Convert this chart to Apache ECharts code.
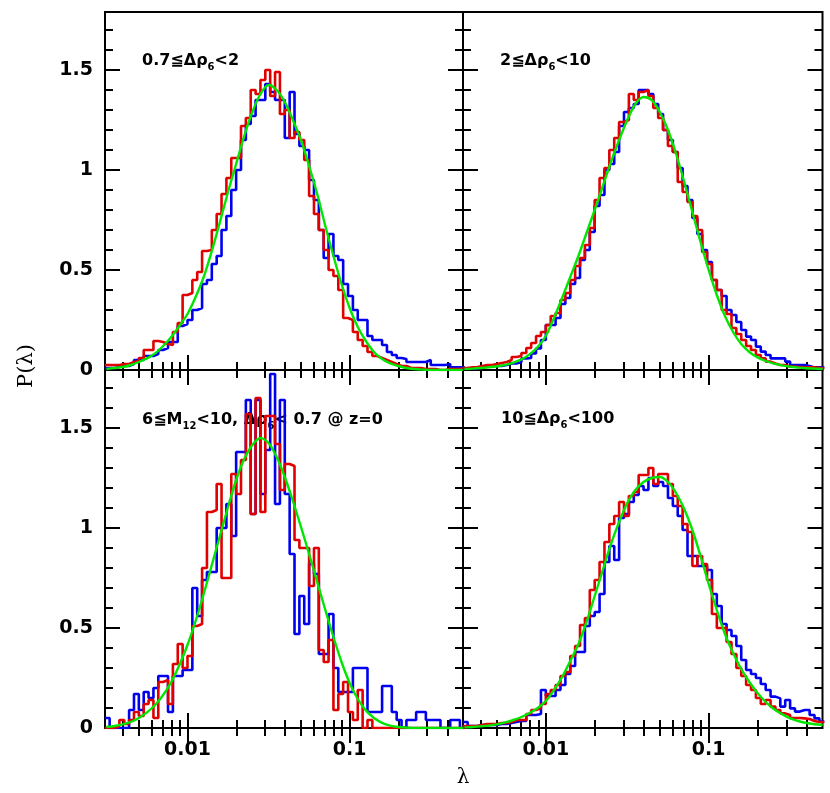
<!DOCTYPE html>
<html><head><meta charset="utf-8">
<script src="https://cdn.jsdelivr.net/npm/echarts@6/dist/echarts.min.js"></script>
<style>html,body{margin:0;padding:0;background:#fff}#c{width:830px;height:793px}</style>
</head><body><div id="c"></div>
<script>
// ---- data ----
const lambdaMin = 0.0031, lambdaMax = 0.5;
const binStartLog10 = -2.51, binWidthDex = 0.03;
const xTickValues = [0.01, 0.1];
const xTickLabels = ['0.01', '0.1'];
const xMinorTickValues = [0.004,0.005,0.006,0.007,0.008,0.009,0.02,0.03,0.04,0.05,0.06,0.07,0.08,0.09,0.2,0.3,0.4];
const yMax = 1.79;
const yTickValues = [0, 0.5, 1, 1.5];
const yTickLabels = ['0', '0.5', '1', '1.5'];
const yMinorTickValues = [0.1,0.2,0.3,0.4,0.6,0.7,0.8,0.9,1.1,1.2,1.3,1.4,1.6,1.7];

const tlRed = [0.025,0.025,0.025,0.03,0.03,0.04,0.045,0.06,0.10,0.10,
 0.145,0.14,0.13,0.125,0.19,0.235,0.375,0.385,0.45,0.49,
 0.595,0.60,0.70,0.78,0.88,0.96,1.06,1.06,1.22,1.26,
 1.40,1.38,1.45,1.50,1.37,1.49,1.28,1.30,1.16,1.19,
 1.15,1.05,0.87,0.78,0.70,0.60,0.50,0.47,0.40,0.26,
 0.25,0.19,0.15,0.12,0.09,0.07,0.06,0.05,0.04,0.03,
 0.02,0.02,0.01,0.01,0.01,0.005,0.005,0.005,0,0,
 0.005,0.005,0.005,0.01];
const tlBlue = [0.01,0.01,0.015,0.02,0.02,0.03,0.05,0.05,0.07,0.07,
 0.08,0.10,0.11,0.14,0.14,0.22,0.23,0.25,0.30,0.31,
 0.43,0.45,0.53,0.57,0.70,0.77,0.90,1.00,1.15,1.23,
 1.27,1.35,1.35,1.43,1.39,1.35,1.35,1.16,1.39,1.18,
 1.12,1.10,0.95,0.85,0.70,0.56,0.68,0.57,0.55,0.43,
 0.37,0.30,0.25,0.25,0.17,0.15,0.15,0.125,0.09,0.075,
 0.06,0.055,0.04,0.04,0.04,0.04,0.05,0.025,0.025,0.025,
 0.03,0.013,0.013,0.013];
const trRed = [0.01,0.013,0.015,0.02,0.025,0.025,0.03,0.035,0.04,0.05,
 0.065,0.07,0.085,0.11,0.135,0.17,0.19,0.225,0.27,0.285,
 0.35,0.385,0.45,0.52,0.56,0.625,0.71,0.85,0.96,1.01,
 1.10,1.16,1.24,1.25,1.38,1.35,1.39,1.40,1.37,1.31,
 1.26,1.20,1.12,1.09,0.94,0.89,0.84,0.77,0.70,0.59,
 0.53,0.45,0.40,0.30,0.28,0.21,0.18,0.15,0.12,0.10,
 0.075,0.058,0.042,0.033,0.025,0.025,0.017,0.017,0.015,0.013,
 0.013,0.013,0.01,0.01];
const trBlue = [0.008,0.008,0.008,0.012,0.02,0.02,0.02,0.02,0.025,0.033,
 0.033,0.04,0.058,0.06,0.083,0.108,0.15,0.225,0.225,0.26,
 0.33,0.36,0.43,0.46,0.55,0.60,0.69,0.82,0.875,1.00,
 1.03,1.09,1.22,1.29,1.31,1.33,1.40,1.40,1.38,1.33,
 1.28,1.20,1.15,1.09,1.01,0.92,0.85,0.76,0.68,0.60,
 0.54,0.45,0.40,0.37,0.30,0.275,0.24,0.20,0.167,0.15,
 0.117,0.092,0.075,0.058,0.058,0.058,0.042,0.025,0.025,0.025,
 0.02,0.013,0.013,0.013];
const blRed = [0,0,0.01,0.04,0.02,0.04,0.08,0.06,0.12,0.14,
 0.05,0.23,0.24,0.12,0.32,0.42,0.30,0.36,0.51,0.52,
 0.80,1.08,1.09,1.22,0.75,0.75,1.27,1.17,1.34,1.57,
 1.07,1.65,1.08,1.56,1.56,1.42,1.19,1.32,1.31,0.94,
 0.90,0.90,0.71,0.90,0.39,0.33,0.44,0.09,0.17,0.23,
 0.08,0.04,0.19,0,0.04,0,0,0,0,0,
 0,0,0,0,0,0,0,0,0,0,
 0,0,0,0];
const blBlue = [0.05,0,0,0,0,0.09,0.17,0.09,0.18,0.15,
 0.20,0.26,0.26,0.08,0.26,0.26,0.29,0.29,0.70,0.56,
 0.74,0.78,0.78,1.00,1.00,1.12,0.96,1.38,1.38,1.64,
 1.07,1.64,1.17,1.39,1.77,1.12,1.64,1.17,0.87,0.47,
 0.66,0.52,0.82,0.77,0.37,0.37,0.57,0.30,0.18,0.18,
 0.18,0.30,0.30,0.30,0.08,0.08,0.08,0.21,0.21,0.08,
 0.04,0,0.04,0.04,0.08,0.08,0.04,0.04,0.04,0,
 0,0.04,0.04,0];
const brRed = [0.01,0.01,0.01,0.015,0.02,0.02,0.02,0.025,0.025,0.03,
 0.04,0.04,0.04,0.07,0.09,0.10,0.12,0.17,0.19,0.215,
 0.26,0.28,0.36,0.41,0.515,0.55,0.69,0.74,0.83,0.93,
 1.02,1.06,1.13,1.06,1.16,1.18,1.265,1.265,1.30,1.22,
 1.27,1.27,1.22,1.16,1.11,1.02,0.98,0.81,0.86,0.82,
 0.74,0.57,0.50,0.50,0.43,0.37,0.30,0.26,0.215,0.19,
 0.15,0.12,0.14,0.107,0.09,0.073,0.065,0.05,0.05,0.048,
 0.045,0.035,0.03,0.03];
const brBlue = [0.03,0.01,0.01,0.015,0.015,0.015,0.015,0.02,0.02,0.025,
 0.03,0.035,0.035,0.065,0.065,0.07,0.19,0.16,0.16,0.19,
 0.215,0.27,0.31,0.38,0.38,0.51,0.56,0.58,0.67,0.83,
 0.91,0.84,1.05,1.07,1.13,1.165,1.21,1.19,1.25,1.21,
 1.23,1.21,1.15,1.11,1.06,0.99,0.86,0.86,0.81,0.81,
 0.79,0.67,0.61,0.52,0.49,0.46,0.41,0.34,0.29,0.27,
 0.25,0.22,0.19,0.157,0.148,0.107,0.14,0.098,0.082,0.09,
 0.09,0.065,0.048,0.032];

// fitted curves, sampled every 0.05 dex from log10(lambda) = -2.5 to -0.3
const fitLog10Lambda = [-2.5,-2.45,-2.4,-2.35,-2.3, -2.25,-2.2,-2.15,-2.1,-2.05, -2.0,-1.95,-1.9,-1.85,-1.8,
 -1.75,-1.7,-1.65,-1.6,-1.55, -1.5,-1.45,-1.4,-1.35,-1.3, -1.25,-1.2,-1.15,-1.1,-1.05,
 -1.0,-0.95,-0.9,-0.85,-0.8, -0.75,-0.7,-0.65,-0.6,-0.55, -0.5,-0.45,-0.4,-0.35,-0.3];
const tlFit = [0.005,0.01,0.015,0.025,0.04, 0.058,0.083,0.12,0.165,0.22, 0.28,0.365,0.465,0.595,0.74,
 0.89,1.03,1.17,1.29,1.38, 1.425,1.40,1.34,1.25,1.15, 1.02,0.88,0.72,0.57,0.43,
 0.31,0.215,0.145,0.09,0.055, 0.033,0.02,0.01,0.005,0.002, 0,0,0,0,0];
const trFit = [0.005,0.007,0.01,0.014,0.019, 0.026,0.037,0.053,0.078,0.115, 0.17,0.26,0.36,0.465,0.57,
 0.685,0.80,0.92,1.04,1.15, 1.25,1.33,1.365,1.35,1.29, 1.20,1.08,0.94,0.79,0.64,
 0.50,0.375,0.27,0.19,0.13, 0.09,0.063,0.045,0.032,0.023, 0.016,0.012,0.009,0.007,0.005];
const blFit = [0.005,0.01,0.018,0.03,0.05, 0.078,0.115,0.165,0.23,0.315, 0.415,0.535,0.67,0.815,0.96,
 1.105,1.24,1.345,1.415,1.45, 1.425,1.355,1.255,1.135,1.005, 0.87,0.73,0.59,0.455,0.33,
 0.225,0.145,0.088,0.05,0.026, 0.012,0.005,0.002,0,0, 0,0,0,0,0];
const brFit = [0.003,0.005,0.008,0.012,0.018, 0.028,0.04,0.055,0.075,0.10, 0.135,0.19,0.255,0.335,0.42,
 0.53,0.66,0.79,0.92,1.03, 1.125,1.19,1.23,1.25,1.255, 1.23,1.175,1.095,0.99,0.86,
 0.72,0.59,0.47,0.375,0.295, 0.23,0.175,0.13,0.095,0.07, 0.048,0.035,0.025,0.019,0.015];

const panelTitles = [
  '{m|0.7≦Δρ}{s|6}{m|<2}',
  '{m|2≦Δρ}{s|6}{m|<10}',
  '{m|6≦M}{s|12}{m|<10, Δρ}{s|6}{m|< 0.7 @ z=0}',
  '{m|10≦Δρ}{s|6}{m|<100}'
];
const xAxisTitle = 'λ';
const yAxisTitle = 'P(λ)';

// ---- build ----
const L = Math.log10;
const panels = [
  {red: tlRed, blue: tlBlue, fit: tlFit},
  {red: trRed, blue: trBlue, fit: trFit},
  {red: blRed, blue: blBlue, fit: blFit},
  {red: brRed, blue: brBlue, fit: brFit}
];
const gridBoxes = [
  {left: 105, top: 12, width: 358, height: 358},
  {left: 463, top: 12, width: 359.5, height: 358},
  {left: 105, top: 370, width: 358, height: 358},
  {left: 463, top: 370, width: 359.5, height: 358}
];
const labelFont = {fontFamily: 'DejaVu Sans', fontWeight: 'bold', fontSize: 19, color: '#000'};
const xMajor = xTickValues.map(L), xMinor = xMinorTickValues.map(L);
function fmtX(v){ const i = xMajor.findIndex(t => Math.abs(t - v) < 1e-6); return i >= 0 ? xTickLabels[i] : ''; }
function fmtY(v){ const i = yTickValues.findIndex(t => Math.abs(t - v) < 1e-6); return i >= 0 ? yTickLabels[i] : ''; }
function stepData(vals){
  const pts = [];
  vals.forEach((v, i) => { const a = binStartLog10 + i * binWidthDex; pts.push([a, v], [a + binWidthDex, v]); });
  return pts;
}
const grids = [], xAxes = [], yAxes = [], series = [];
gridBoxes.forEach((b, g) => {
  grids.push(Object.assign({show: true, borderColor: '#000', borderWidth: 2, backgroundColor: 'rgba(0,0,0,0)'}, b));
  const showX = g >= 2, showY = g % 2 === 0;
  ['bottom', 'top'].forEach(pos => {
    [[xMajor, 15], [xMinor, 8]].forEach(([vals, len], k) => {
      xAxes.push({
        type: 'value', gridIndex: g, position: pos, min: L(lambdaMin), max: L(lambdaMax),
        axisLine: {show: false}, splitLine: {show: false},
        axisTick: {show: true, inside: true, length: len, customValues: vals, lineStyle: {color: '#000', width: 2}},
        axisLabel: Object.assign({show: showX && pos === 'bottom' && k === 0, customValues: xMajor, formatter: fmtX, margin: 13}, labelFont)
      });
    });
  });
  ['left', 'right'].forEach(pos => {
    [[yTickValues, 15], [yMinorTickValues, 8]].forEach(([vals, len], k) => {
      yAxes.push({
        type: 'value', gridIndex: g, position: pos, min: 0, max: yMax,
        axisLine: {show: false}, splitLine: {show: false},
        axisTick: {show: true, inside: true, length: len, customValues: vals, lineStyle: {color: '#000', width: 2}},
        axisLabel: Object.assign({show: showY && pos === 'left' && k === 0, customValues: yTickValues, formatter: fmtY, margin: 12}, labelFont)
      });
    });
  });
  const p = panels[g];
  const common = {type: 'line', xAxisIndex: g * 4, yAxisIndex: g * 4, showSymbol: false, symbol: 'none', silent: true};
  series.push(Object.assign({data: stepData(p.blue), lineStyle: {color: '#0000ee', width: 2.6}}, common));
  series.push(Object.assign({data: stepData(p.red), lineStyle: {color: '#e00000', width: 2.6}}, common));
  series.push(Object.assign({data: fitLog10Lambda.map((x, i) => [x, p.fit[i]]), smooth: 0.3, lineStyle: {color: '#00e600', width: 2.4}}, common));
});

const titlePos = [[142, 61], [500, 61], [142, 420], [501, 419]];
const rich = {
  m: {fontFamily: 'DejaVu Sans', fontWeight: 'bold', fontSize: 16, lineHeight: 22, verticalAlign: 'middle', fill: '#000'},
  s: {fontFamily: 'DejaVu Sans', fontWeight: 'bold', fontSize: 10, lineHeight: 22, verticalAlign: 'bottom', fill: '#000'}
};
const graphic = titlePos.map((pt, i) => ({
  type: 'text', x: pt[0], y: pt[1], silent: true,
  style: {text: panelTitles[i], rich: rich, align: 'left', verticalAlign: 'middle', fill: '#000'}
}));
graphic.push({type: 'text', x: 463, y: 778, silent: true,
  style: {text: xAxisTitle, fontFamily: 'DejaVu Serif', fontSize: 20, fill: '#000', align: 'center', verticalAlign: 'middle'}});
graphic.push({type: 'text', x: 27, y: 366, rotation: Math.PI / 2, silent: true,
  style: {text: yAxisTitle, fontFamily: 'DejaVu Serif', fontSize: 21, fill: '#000', align: 'center', verticalAlign: 'middle'}});

const chart = echarts.init(document.getElementById('c'), null, {renderer: 'canvas'});
chart.setOption({animation: false, backgroundColor: '#fff', grid: grids, xAxis: xAxes, yAxis: yAxes, series: series, graphic: graphic});
</script></body></html>
